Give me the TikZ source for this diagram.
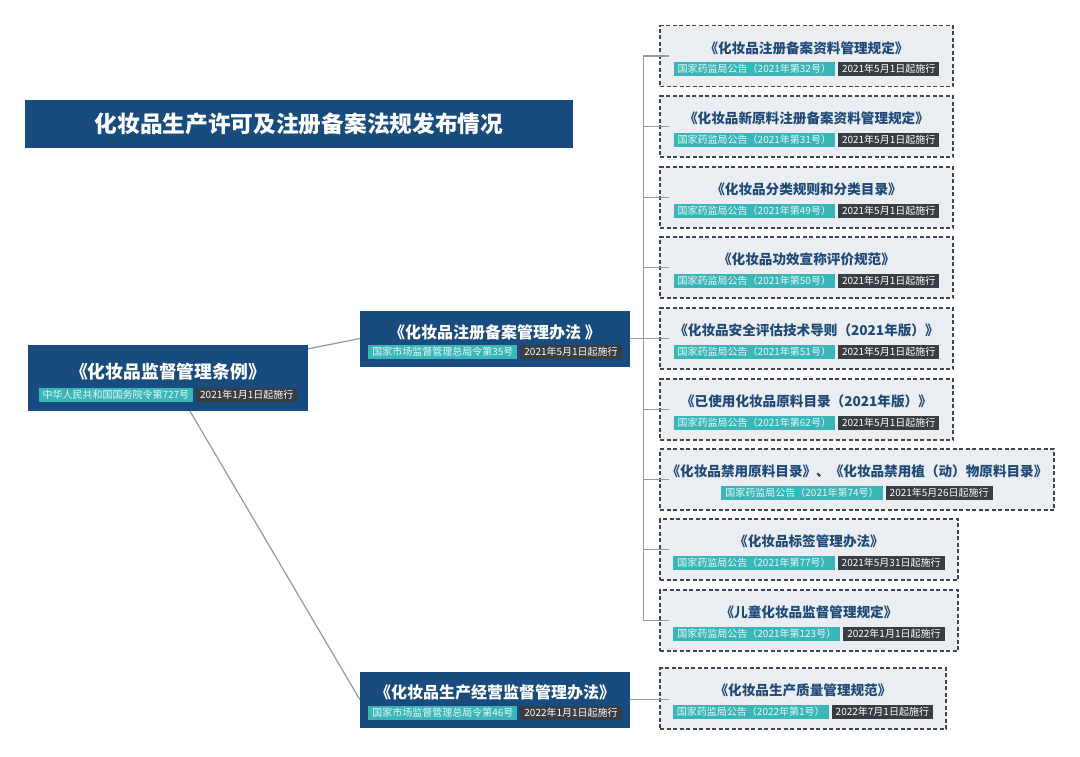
\documentclass[tikz,border=0pt]{standalone}
\usepackage{fontspec}
\setmainfont{Noto Sans CJK SC}
\definecolor{navy}{HTML}{184B7E}
\definecolor{tealc}{HTML}{3AB5B8}
\definecolor{tagtxt}{HTML}{E8F8F8}
\definecolor{darkc}{HTML}{383D44}
\definecolor{leaffill}{HTML}{EAEEF3}
\definecolor{dashc}{HTML}{3D4754}
\definecolor{leaftxt}{HTML}{1F4A78}
\definecolor{linkc}{HTML}{8E9AA5}
\newcommand\tagT[1]{{\setlength\fboxsep{0pt}\colorbox{tealc}{\rule[-3.3pt]{0pt}{14pt}\hspace{4pt}\textcolor{tagtxt}{#1}\hspace{4pt}}}}
\newcommand\tagD[1]{{\setlength\fboxsep{0pt}\colorbox{darkc}{\rule[-3.3pt]{0pt}{14pt}\hspace{4pt}\textcolor{white}{#1}\hspace{4pt}}}}
\newcommand\tagpair[2]{\tagT{#1}\hspace{3pt}\tagD{#2}}
\tikzset{
  titlebar/.style={fill=navy, minimum width=548pt, minimum height=48pt, inner sep=0pt, text=white, font=\fontsize{22.7}{26}\selectfont\bfseries},
  mainbox/.style={fill=navy, inner sep=0pt},
  leafbox/.style={fill=leaffill, draw=dashc, line width=1.4pt, dash pattern=on 4pt off 2.5pt, minimum height=61pt, inner sep=0pt},
  maintitle/.style={text=white, font=\fontsize{16}{20}\selectfont\bfseries, inner sep=0pt},
  leaftitle/.style={text=leaftxt, font=\fontsize{13.6}{16}\selectfont\bfseries, inner sep=0pt},
  tagrow/.style={inner sep=0pt, font=\fontsize{10}{12}\selectfont},
  link/.style={draw=linkc, line width=1.2pt},
}
\newcommand\leaf[6]{%
  \node[leafbox, minimum width=#4pt] (#1) at (#2,#3) {};
  \node[leaftitle] (#1t) at ([yshift=8pt]#1.center) {#5};
  \node[tagrow] (#1g) at ([yshift=-13pt]#1.center) {#6};
}
\begin{document}
\begin{tikzpicture}[x=1pt,y=-1pt]
\fill[white] (0,0) rectangle (1080,756);
\useasboundingbox (0,0) rectangle (1080,756);

% title bar
\node[titlebar] (title) at (299,124) {化妆品生产许可及注册备案法规发布情况};

% root
\node[mainbox, minimum width=280pt, minimum height=66pt] (root) at (168,378) {};
\node[maintitle, font=\fontsize{17.8}{20}\selectfont\bfseries] (roott) at ([yshift=6.5pt]root.center) {《化妆品监督管理条例》};
\node[tagrow] (rootg) at ([yshift=-16.5pt]root.center) {\tagpair{中华人民共和国国务院令第727号}{2021年1月1日起施行}};

% mid 1
\node[mainbox, minimum width=270pt, minimum height=56pt] (mid1) at (495,338.5) {};
\node[maintitle] (mid1t) at ([yshift=6.5pt]mid1.center) {《化妆品注册备案管理办法\ 》};
\node[tagrow] (mid1g) at ([yshift=-13.5pt]mid1.center) {\tagpair{国家市场监督管理总局令第35号}{2021年5月1日起施行}};

% mid 2
\node[mainbox, minimum width=270pt, minimum height=56pt] (mid2) at (495,699.5) {};
\node[maintitle] (mid2t) at ([yshift=7.5pt]mid2.center) {《化妆品生产经营监督管理办法》};
\node[tagrow] (mid2g) at ([yshift=-13.5pt]mid2.center) {\tagpair{国家市场监督管理总局令第46号}{2022年1月1日起施行}};

% leaves
\leaf{l1}{806.5}{56}{293}{《化妆品注册备案资料管理规定》}{\tagpair{国家药监局公告（2021年第32号）}{2021年5月1日起施行}}
\leaf{l2}{806.5}{126.5}{293}{《化妆品新原料注册备案资料管理规定》}{\tagpair{国家药监局公告（2021年第31号）}{2021年5月1日起施行}}
\leaf{l3}{806.5}{197.5}{293}{《化妆品分类规则和分类目录》}{\tagpair{国家药监局公告（2021年第49号）}{2021年5月1日起施行}}
\leaf{l4}{806.5}{267.5}{293}{《化妆品功效宣称评价规范》}{\tagpair{国家药监局公告（2021年第50号）}{2021年5月1日起施行}}
\leaf{l5}{806.5}{338.5}{293}{《化妆品安全评估技术导则（2021年版）》}{\tagpair{国家药监局公告（2021年第51号）}{2021年5月1日起施行}}
\leaf{l6}{806.5}{409.5}{293}{《已使用化妆品原料目录（2021年版）》}{\tagpair{国家药监局公告（2021年第62号）}{2021年5月1日起施行}}
\leaf{l7}{857}{479.5}{394}{《化妆品禁用原料目录》、《化妆品禁用植（动）物原料目录》}{\tagpair{国家药监局公告（2021年第74号）}{2021年5月26日起施行}}
\leaf{l8}{809}{549.5}{298}{《化妆品标签管理办法》}{\tagpair{国家药监局公告（2021年第77号）}{2021年5月31日起施行}}
\leaf{l9}{809}{620.5}{298}{《儿童化妆品监督管理规定》}{\tagpair{国家药监局公告（2021年第123号）}{2022年1月1日起施行}}
\leaf{l10}{803}{698.5}{286}{《化妆品生产质量管理规范》}{\tagpair{国家药监局公告（2022年第1号）}{2022年7月1日起施行}}

% connectors
\draw[link] ([yshift=-4pt]root.north east) -- (mid1.west);
\draw[link] ([xshift=22pt]root.south) -- (mid2.west);
\foreach \i in {1,...,9}
  \draw[link] (mid1.east) -- ++(13,0) |- ([xshift=10pt]l\i.west);
\draw[link] (mid2.east) -- ([xshift=10pt]l10.west |- mid2.east);
\end{tikzpicture}
\end{document}
